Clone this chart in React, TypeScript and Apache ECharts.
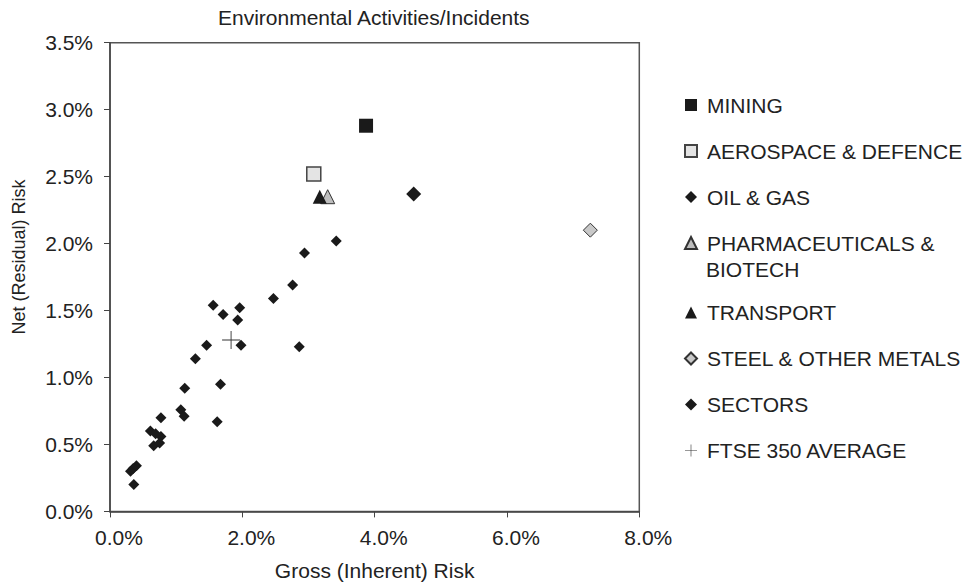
import React, { useEffect, useRef } from "react";
import * as echarts from "echarts";

// Gross vs net risk (percent), one point per sector
const miningPoint = [[3.87, 2.88]];
const aerospacePoint = [[3.08, 2.52]];
const oilGasPoint = [[4.59, 2.37]];
const pharmaPoint = [[3.29, 2.35]];
const transportPoint = [[3.17, 2.35]];
const steelPoint = [[7.26, 2.1]];
const sectorPoints = [
  [3.42, 2.02],
  [2.94, 1.93],
  [2.76, 1.69],
  [2.47, 1.59],
  [1.56, 1.54],
  [1.71, 1.47],
  [1.96, 1.52],
  [1.93, 1.43],
  [1.98, 1.24],
  [1.46, 1.24],
  [1.29, 1.14],
  [2.86, 1.23],
  [1.67, 0.95],
  [1.13, 0.92],
  [1.62, 0.67],
  [1.07, 0.76],
  [1.12, 0.71],
  [0.77, 0.7],
  [0.61, 0.6],
  [0.69, 0.58],
  [0.77, 0.56],
  [0.66, 0.49],
  [0.75, 0.51],
  [0.4, 0.34],
  [0.35, 0.32],
  [0.31, 0.3],
  [0.36, 0.2],
];
const ftseAverage = [[1.83, 1.28]];

const legendTop = ["MINING", "AEROSPACE & DEFENCE", "OIL & GAS", "PHARMACEUTICALS & BIOTECH"];
const legendBottom = ["TRANSPORT", "STEEL & OTHER METALS", "SECTORS", "FTSE 350 AVERAGE"];

const FONT = "'Liberation Sans', Arial, Helvetica, sans-serif";
const INK = "#222";
const PLUS = "path://M0,9.5H20V10.5H0Z M9.5,0H10.5V20H9.5Z";

const pct = (v: number) => v.toFixed(1) + "%";

export default function App() {
  const ref = useRef<HTMLDivElement>(null);

  useEffect(() => {
    document.body.style.margin = "0";
    const chart = echarts.init(ref.current!, undefined, { renderer: "svg" });

    const legendCommon = {
      orient: "vertical" as const,
      left: 684,
      padding: 0,
      itemGap: 20,
      itemWidth: 12,
      itemHeight: 12,
      selectedMode: false,
      textStyle: {
        fontFamily: FONT,
        fontSize: 21,
        lineHeight: 26,
        color: INK,
        padding: [0, 0, 0, 5],
      },
    };

    chart.setOption({
      animation: false,
      backgroundColor: "#fff",
      title: {
        text: "Environmental Activities/Incidents",
        left: 373.8,
        top: 5.5,
        padding: 0,
        textAlign: "center",
        textStyle: {
          fontFamily: FONT,
          fontSize: 21,
          lineHeight: 24,
          fontWeight: "normal",
          color: INK,
        },
      },
      grid: {
        left: 108.5,
        right: 332.7,
        top: 42.7,
        bottom: 72.3,
        show: true,
        borderColor: "#555",
        borderWidth: 1.5,
      },
      legend: [
        {
          ...legendCommon,
          top: 92,
          data: legendTop,
          formatter: (n: string) =>
            n === "PHARMACEUTICALS & BIOTECH" ? "PHARMACEUTICALS &" : n,
        },
        { ...legendCommon, top: 299.5, data: legendBottom },
      ],
      graphic: [
        {
          type: "text",
          left: 706,
          top: 256,
          style: {
            text: "BIOTECH",
            fontFamily: FONT,
            fontSize: 21,
            lineHeight: 26,
            fill: INK,
          },
        },
      ],
      xAxis: {
        type: "value",
        min: 0,
        max: 8,
        interval: 2,
        name: "Gross (Inherent) Risk",
        nameLocation: "middle",
        nameGap: 46.6,
        nameTextStyle: { fontFamily: FONT, fontSize: 21, lineHeight: 24, color: INK },
        axisLine: { lineStyle: { color: "#444", width: 1.5 } },
        axisTick: { show: true, inside: false, length: 6, lineStyle: { color: "#444" } },
        axisLabel: {
          formatter: pct,
          fontFamily: FONT,
          fontSize: 21,
          lineHeight: 24,
          color: INK,
          margin: 14,
          padding: [0, 0, 0, 18],
        },
        splitLine: { show: false },
      },
      yAxis: {
        type: "value",
        min: 0,
        max: 3.5,
        interval: 0.5,
        name: "Net (Residual) Risk",
        nameLocation: "middle",
        nameGap: 80,
        nameTextStyle: {
          fontFamily: FONT,
          fontSize: 18,
          lineHeight: 22,
          color: INK,
          padding: [0, 0, 0, 40],
        },
        axisLine: { show: true, lineStyle: { color: "#444", width: 1.5 } },
        axisTick: { show: true, inside: false, length: 6, lineStyle: { color: "#444" } },
        axisLabel: {
          formatter: pct,
          fontFamily: FONT,
          fontSize: 21,
          color: INK,
          margin: 17,
        },
        splitLine: { show: false },
      },
      series: [
        {
          name: "MINING",
          type: "scatter",
          symbol: "rect",
          symbolSize: 14,
          itemStyle: { color: "#1a1a1a", opacity: 1 },
          data: miningPoint,
        },
        {
          name: "AEROSPACE & DEFENCE",
          type: "scatter",
          symbol: "rect",
          symbolSize: 14,
          itemStyle: { color: "#e4e4e4", borderColor: "#444", borderWidth: 1.5, opacity: 1 },
          data: aerospacePoint,
        },
        {
          name: "OIL & GAS",
          type: "scatter",
          symbol: "diamond",
          symbolSize: 15,
          itemStyle: { color: "#1a1a1a", opacity: 1 },
          data: oilGasPoint,
        },
        {
          name: "PHARMACEUTICALS & BIOTECH",
          type: "scatter",
          symbol: "triangle",
          symbolSize: 14,
          itemStyle: { color: "#bdbdbd", borderColor: "#333", borderWidth: 1, opacity: 1 },
          data: pharmaPoint,
        },
        {
          name: "TRANSPORT",
          type: "scatter",
          symbol: "triangle",
          symbolSize: 14,
          itemStyle: { color: "#1a1a1a", opacity: 1 },
          data: transportPoint,
        },
        {
          name: "STEEL & OTHER METALS",
          type: "scatter",
          symbol: "diamond",
          symbolSize: 14,
          itemStyle: { color: "#c8c8c8", borderColor: "#333", borderWidth: 1, opacity: 1 },
          data: steelPoint,
        },
        {
          name: "SECTORS",
          type: "scatter",
          symbol: "diamond",
          symbolSize: 11,
          itemStyle: { color: "#1a1a1a", opacity: 1 },
          data: sectorPoints,
        },
        {
          name: "FTSE 350 AVERAGE",
          type: "scatter",
          symbol: PLUS,
          symbolSize: 18,
          itemStyle: { color: "#333", opacity: 1 },
          data: ftseAverage,
        },
      ],
    });

    return () => chart.dispose();
  }, []);

  return <div ref={ref} style={{ width: 972, height: 587 }} />;
}
